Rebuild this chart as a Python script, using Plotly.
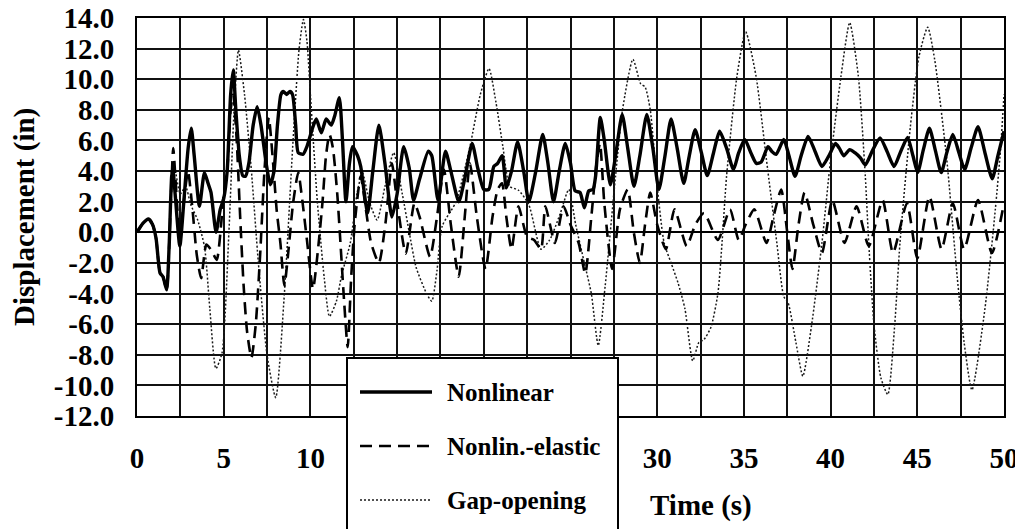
import plotly.graph_objects as go

# ---------------- data ----------------
nl_t = [0, 0.35, 0.66, 0.9, 1.1, 1.33, 1.5, 1.71, 1.85, 2.0, 2.07, 2.2, 2.47, 2.7, 2.95, 3.13, 3.3, 3.6,
        3.89, 4.1, 4.27, 4.56, 4.8, 5.0, 5.2, 5.4, 5.55, 5.7, 5.9, 6.1, 6.26, 6.45, 6.7, 6.93, 7.15, 7.45,
        7.69, 7.9, 8.1, 8.3, 8.44, 8.63, 8.82, 8.97, 9.15, 9.3, 9.58, 9.8, 10.15, 10.34, 10.63, 10.91, 11.2,
        11.4, 11.67, 11.85, 12.05, 12.25, 12.43, 12.72, 12.9, 13.3, 13.6, 13.95, 14.3, 14.7, 15.0, 15.38,
        15.7, 15.95, 16.3, 16.8, 17.0, 17.36, 17.79, 18.1, 18.56, 18.9, 19.33, 19.65, 20.0, 20.29, 20.58,
        20.8, 21.06, 21.3, 21.6, 21.95, 22.3, 22.6, 23.0, 23.4, 23.7, 24.02, 24.35, 24.7, 25.0, 25.27,
        25.55, 25.8, 26.05, 26.3, 26.45, 26.72, 26.95, 27.3, 27.6, 27.98, 28.3, 28.66, 29.0, 29.4, 29.75,
        30.1, 30.45, 30.8, 31.15, 31.53, 31.85, 32.19, 32.55, 32.89, 33.25, 33.6, 34.0, 34.4, 34.7, 35.05,
        35.4, 35.72, 36.0, 36.39, 36.6, 36.86, 37.3, 37.6, 37.95, 38.3, 38.7, 39.1, 39.5, 39.9, 40.28,
        40.5, 40.76, 41.1, 41.4, 41.72, 42.0, 42.4, 42.85, 43.25, 43.66, 44.05, 44.44, 44.75, 45.02,
        45.35, 45.7, 46.05, 46.38, 46.7, 47.05, 47.4, 47.73, 48.1, 48.5, 48.9, 49.32, 49.65, 50.0]
nl_v = [0, 0.6, 0.87, 0.5, -0.4, -2.66, -2.9, -3.75, -1.0, 3.66, 4.1, 2.5, -0.9, 2.0, 5.5, 6.8, 5.0, 1.7,
        3.9, 3.2, 2.6, 0.0, 1.5, 2.2, 4.0, 9.0, 10.6, 8.0, 5.0, 3.7, 3.66, 4.5, 7.0, 8.2, 7.0, 4.5,
        3.1, 4.0, 7.0, 9.0, 9.2, 9.0, 9.2, 9.0, 7.0, 5.2, 5.1, 5.6, 6.9, 7.4, 6.5, 7.4, 7.0,
        7.6, 8.8, 6.0, 2.0, 4.5, 5.6, 5.0, 4.3, 1.26, 4.0, 7.0, 4.5, 1.0, 2.5, 5.6,
        4.2, 2.1, 3.5, 5.3, 5.0, 2.1, 5.3, 4.0, 2.0, 3.5, 5.8, 4.2, 2.8, 2.8, 4.3,
        4.5, 5.0, 2.9, 4.0, 5.9, 4.0, 2.0, 4.0, 6.4, 4.5, 2.0, 4.0, 5.8, 4.5, 2.7,
        2.6, 1.6, 2.7, 2.8, 3.7, 7.5, 6.0, 3.1, 5.0, 7.7, 5.5, 3.0, 5.0, 7.7, 5.5,
        2.8, 5.0, 7.4, 5.5, 3.2, 5.0, 6.7, 5.2, 3.7, 5.2, 6.6, 5.5, 4.1, 5.2, 6.06,
        5.2, 4.5, 4.6, 5.6, 5.3, 5.1, 6.06, 5.0, 3.66, 5.0, 6.27, 5.3, 4.3, 5.0, 5.8,
        5.5, 5.0, 5.4, 5.2, 4.86, 4.4, 5.3, 6.17, 5.3, 4.3, 5.3, 6.2, 5.0, 3.9,
        5.4, 6.8, 5.3, 3.9, 5.2, 6.4, 5.2, 4.1, 5.5, 6.9, 5.2, 3.5, 5.0, 6.6]

ne_t = [0, 0.35, 0.66, 0.9, 1.1, 1.33, 1.5, 1.71, 1.85, 2.0, 2.09, 2.3, 2.47, 2.7, 2.94, 3.2, 3.45, 3.7,
        4.0, 4.3, 4.6, 4.85, 5.0, 5.2, 5.4, 5.55, 5.75, 5.95, 6.15, 6.35, 6.6, 6.85, 7.1, 7.35, 7.6,
        7.85, 8.05, 8.27, 8.5, 8.75, 9.0, 9.3, 9.5, 9.8, 10.15, 10.45, 10.7, 10.9, 11.1, 11.3, 11.55,
        11.75, 11.95, 12.15, 12.35, 12.55, 12.9, 13.2, 13.5, 13.95, 14.33, 14.7, 15.0, 15.5, 16.0, 16.3,
        16.9, 17.3, 17.7, 18.1, 18.55, 18.9, 19.2, 19.6, 20.1, 20.5, 20.8, 21.05, 21.3, 21.6, 22.0,
        22.5, 22.9, 23.3, 23.55, 24.1, 24.6, 25.0, 25.47, 25.85, 26.2, 26.5, 26.7, 26.95, 27.4, 27.85,
        28.3, 28.65, 29.0, 29.3, 29.6, 30.0, 30.5, 31.0, 31.7, 32.2, 32.7, 33.5, 34.2, 34.7, 35.1,
        35.6, 36.3, 36.7, 37.15, 37.5, 37.8, 38.15, 38.5, 39.0, 39.5, 40.1, 40.8, 41.5, 42.2, 43.0,
        43.6, 44.4, 45.0, 45.7, 46.4, 47.05, 47.7, 48.5, 49.3, 50.0]
ne_v = [0, 0.6, 0.87, 0.5, -0.4, -2.66, -2.9, -3.75, -1.0, 3.5, 5.5, 2.0, -0.5, 2.0, 4.0, 1.5, -1.5, -3.0,
        -0.8, -1.2, -1.8, 0.5, 2.5, 4.0, 8.0, 9.0, 6.0, 1.0, -3.5, -6.5, -8.2, -6.0, -1.5, 4.0, 7.5,
        4.5, 1.5, -0.7, -3.5, -1.0, 1.9, 3.9, 2.4, -0.5, -3.7, -1.0, 2.0, 5.0, 6.4, 5.5, 2.5,
        -1.0, -4.6, -7.5, -3.0, 0.5, 3.66, 1.5, -0.7, -2.0, 0.6, 4.5, 2.0, -1.4, 1.9, 1.0,
        -1.6, 1.0, 4.1, 0.5, -2.9, 1.0, 4.5, 1.0, -2.4, 1.0, 2.8, 3.2, 1.0, -1.1, 1.7,
        -0.3, -0.5, -1.1, 1.7, -0.7, 1.7, 0.5, -0.7, -2.7, 1.0, 4.5, 5.8, 1.9, -2.4, 1.5,
        2.8, 0.0, -2.0, 0.5, 2.6, 0.5, -1.1, 1.5, -0.9, 0.5, 1.26, -0.5, 1.5, -0.5, 0.5,
        1.5, -0.7, 1.0, 2.8, 0.0, -2.4, 0.5, 2.6, 0.5, -1.35, 2.1, -0.7, 1.7, -0.9, 2.1,
        -1.35, 1.9, -1.7, 2.35, -1.1, 1.9, -1.1, 2.1, -1.35, 1.9]

go_t = [0, 0.35, 0.66, 0.9, 1.1, 1.33, 1.5, 1.71, 1.85, 2.0, 2.15, 2.5, 2.8, 3.1, 3.5, 3.9, 4.2, 4.55,
        4.9, 5.3, 5.6, 5.85, 6.2, 6.6, 7.0, 7.5, 8.0, 8.5, 9.0, 9.35, 9.6, 9.8, 10.0, 10.4, 10.8, 11.1,
        11.5, 11.8, 12.3, 12.7, 13.0, 13.4, 13.85, 14.3, 14.8, 15.3, 15.7, 16.1, 16.7, 17.0, 17.3, 17.6,
        18.4, 19.2, 19.8, 20.3, 20.7, 21.1, 21.5, 22.0, 22.6, 23.3, 23.8, 24.4, 24.9, 25.3, 25.8, 26.2,
        26.6, 27.0, 27.6, 28.0, 28.6, 29.05, 29.3, 29.6, 30.0, 30.4, 30.8, 31.2, 31.6, 32.05, 32.4,
        32.7, 33.1, 33.5, 33.75, 34.0, 34.6, 35.1, 35.7, 36.3, 36.9, 37.3, 37.55, 38.0, 38.4, 38.9,
        39.5, 40.0, 40.6, 41.1, 41.6, 42.0, 42.2, 42.5, 42.9, 43.3, 43.7, 44.0, 44.6, 45.1, 45.6, 46.0,
        46.7, 47.3, 47.7, 48.15, 48.9, 49.5, 49.8, 50.0]
go_v = [0, 0.6, 0.87, 0.5, -0.4, -2.66, -2.9, -3.75, -1.0, 3.0, 4.3, 2.5, 3.0, 1.8, 0.8, -1.0, -5.0, -8.9,
        -7.9, 0.0, 8.0, 11.9, 9.0, 4.0, -2.0, -8.0, -10.8, -4.0, 6.0, 12.0, 13.9, 12.5, 9.0, 2.0, -3.0, -5.5,
        -4.5, -2.8, -0.7, 2.6, 3.9, 2.0, 0.8, 3.0, 5.2, 2.5, 0.0, -2.3, -4.0, -4.5, -2.5, 0.4,
        2.0, 5.6, 9.0, 10.7, 8.5, 5.6, 3.0, 2.75, 1.8, -1.1, -0.5, 1.2, 2.8, 0.5, -2.0, -4.0,
        -7.4, -3.5, 3.7, 8.0, 11.3, 9.7, 9.5, 8.0, 3.0, -0.7, -2.0, -3.3, -5.0, -8.4, -7.2,
        -7.0, -6.2, -4.0, -0.5, 3.66, 10.2, 13.1, 10.2, 4.75, -0.7, -4.2, -4.6, -7.2, -9.4, -6.1,
        -0.7, 4.75, 10.2, 13.7, 10.2, 3.7, -0.7, -6.0, -9.5, -10.6, -6.0, -0.7, 6.9, 11.5, 13.4, 11.3,
        4.75, -2.9, -7.2, -10.3, -5.0, 1.5, 5.4, 9.0]

series_names = ["Nonlinear", "Nonlin.-elastic", "Gap-opening"]
x_tickvals = [0, 5, 10, 15, 20, 25, 30, 35, 40, 45, 50]
# 15, 20 and 25 are hidden behind the legend box in the reference
x_ticktext = ["0", "5", "10", "", "", "", "30", "35", "40", "45", "50"]
y_tickvals = [-12, -10, -8, -6, -4, -2, 0, 2, 4, 6, 8, 10, 12, 14]
y_ticktext = ["%.1f" % v for v in y_tickvals]  # plain hyphen minus, like the original

FONT = "Liberation Serif"
W, H = 1023, 529
OFF = 8  # the page body offsets the figure by 8px
ML, MR, MT, MB = 137 - OFF, 19 + OFF, 18 - OFF, 113 + OFF
PW, PH = W - ML - MR, H - MT - MB


def px(xp):  # page pixel -> paper
    return (xp - OFF - ML) / PW


def py(yp):
    return (H - MB - (yp - OFF)) / PH


styles = {
    "Nonlinear": dict(color="black", width=3.4, dash="solid"),
    "Nonlin.-elastic": dict(color="black", width=2.6, dash="12px,7px"),
    "Gap-opening": dict(color="#1a1a1a", width=1.5, dash="2px,2px"),
}

fig = go.Figure()
fig.add_trace(go.Scatter(x=go_t, y=go_v, mode="lines", name=series_names[2],
                         line=dict(shape="spline", smoothing=0.6, **styles["Gap-opening"])))
fig.add_trace(go.Scatter(x=ne_t, y=ne_v, mode="lines", name=series_names[1],
                         line=dict(shape="spline", smoothing=0.6, **styles["Nonlin.-elastic"])))
fig.add_trace(go.Scatter(x=nl_t, y=nl_v, mode="lines", name=series_names[0],
                         line=dict(shape="spline", smoothing=0.6, **styles["Nonlinear"])))

fig.update_layout(
    width=W, height=H, autosize=False,
    margin=dict(l=ML, r=MR, t=MT, b=MB, autoexpand=False),
    paper_bgcolor="white", plot_bgcolor="white",
    showlegend=False,
    font=dict(family=FONT, size=29, color="black", weight="bold"),
)
fig.update_xaxes(
    range=[0, 50], tickvals=x_tickvals, ticktext=x_ticktext, automargin=False,
    ticklabeloverflow="allow",
    showgrid=True, gridcolor="#111111", gridwidth=1.7,
    minor=dict(dtick=2.5, tick0=0, showgrid=True, gridcolor="#111111", gridwidth=1.7),
    showline=True, linecolor="black", linewidth=2, mirror=True,
    zeroline=False, ticks="", ticklabelstandoff=15,
    tickfont=dict(family=FONT, size=29, weight="bold"),
)
fig.update_yaxes(
    range=[-12, 14], tickvals=y_tickvals, ticktext=y_ticktext, automargin=False,
    ticklabeloverflow="allow",
    showgrid=True, gridcolor="#111111", gridwidth=1.7,
    showline=True, linecolor="black", linewidth=2, mirror=True,
    zeroline=True, zerolinecolor="black", zerolinewidth=2,
    ticks="", ticklabelstandoff=15,
    tickfont=dict(family=FONT, size=29, weight="bold"),
)

# Legend box (opaque, drawn above the plot like the original)
fig.add_shape(type="rect", xref="paper", yref="paper", layer="above",
              x0=px(347), x1=px(618), y0=py(545), y1=py(358),
              fillcolor="white", line=dict(color="black", width=2))
rows = [392, 446, 500]
for name, yr in zip(series_names, rows):
    st = styles[name]
    fig.add_shape(type="line", xref="paper", yref="paper", layer="above",
                  x0=px(360), x1=px(432), y0=py(yr), y1=py(yr),
                  line=dict(color=st["color"], width=st["width"] if name != "Gap-opening" else 1.3,
                            dash=st["dash"]))
    fig.add_annotation(xref="paper", yref="paper", x=px(445), y=py(yr), text=name,
                       showarrow=False, xanchor="left", yanchor="middle",
                       font=dict(family=FONT, size=25, weight="bold", color="black"))

# Axis titles
fig.add_annotation(xref="paper", yref="paper", x=px(701), y=py(505), text="Time (s)",
                   showarrow=False, xanchor="center", yanchor="middle",
                   font=dict(family=FONT, size=29, weight="bold", color="black"))
fig.add_annotation(xref="paper", yref="paper", x=px(24), y=py(217), text="Displacement (in)",
                   textangle=-90, showarrow=False, xanchor="center", yanchor="middle",
                   font=dict(family=FONT, size=29, weight="bold", color="black"))

fig.write_html("out.html")
